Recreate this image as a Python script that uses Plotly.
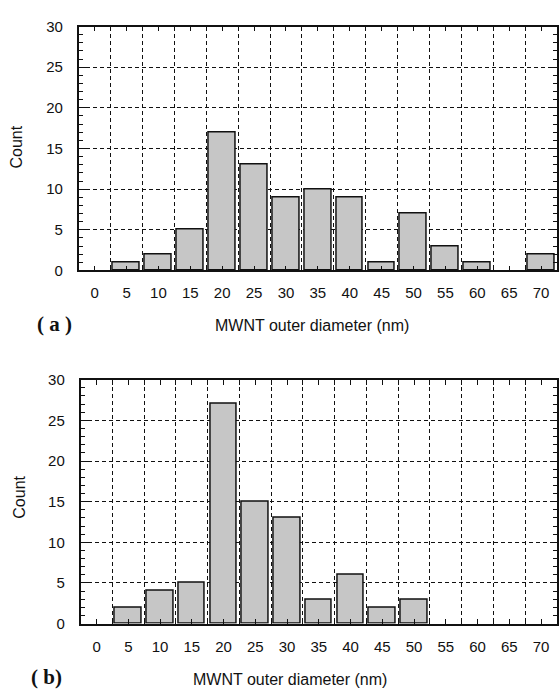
import plotly.graph_objects as go

W, H = 559, 696

diameters = [0, 5, 10, 15, 20, 25, 30, 35, 40, 45, 50, 55, 60, 65, 70]
counts_a = [0, 1, 2, 5, 17, 13, 9, 10, 9, 1, 7, 3, 1, 0, 2]
counts_b = [0, 2, 4, 5, 27, 15, 13, 3, 6, 2, 3, 0, 0, 0, 0]
y_ticks = [0, 5, 10, 15, 20, 25, 30]
x_title = "MWNT outer diameter (nm)"
y_title = "Count"
panel_labels = ["( a )", "( b)"]

def px(x):
    return x / W

def py(y):
    return 1 - y / H

fig = go.Figure()

def bar(x, y, xa, ya):
    return go.Bar(
        x=x, y=y, xaxis=xa, yaxis=ya, width=4.2,
        marker=dict(color="#c6c6c6",
                    line=dict(color="#111111", width=[0 if v == 0 else 1.5 for v in y])),
        showlegend=False, hoverinfo="skip")

fig.add_trace(bar(diameters, counts_a, "x", "y"))
fig.add_trace(bar(diameters, counts_b, "x2", "y2"))

font_tick = dict(family="Liberation Sans, Arial, sans-serif", size=15, color="#111111")

def xaxis_cfg(anchor, domain):
    return dict(
        domain=domain, anchor=anchor, range=[-2.5, 72.5],
        tickvals=diameters, ticktext=[str(v) for v in diameters],
        ticks="inside", ticklen=5, tickwidth=1.3, tickcolor="#111111",
        showgrid=False, zeroline=False,
        showline=True, linecolor="#111111", linewidth=1.8, mirror="ticks",
        tickfont=font_tick, ticklabelstandoff=8,
        minor=dict(tick0=2.5, dtick=5, ticks="inside", ticklen=5, tickwidth=1.3,
                   tickcolor="#111111", showgrid=True, gridcolor="#111111",
                   gridwidth=1.3, griddash="4px,3px"),
        fixedrange=True,
    )

def yaxis_cfg(anchor, domain):
    return dict(
        domain=domain, anchor=anchor, range=[0, 30],
        tickvals=y_ticks, ticks="inside", ticklen=7, tickwidth=1.3, tickcolor="#111111",
        showgrid=True, gridcolor="#111111", gridwidth=1.3, griddash="4px,3px",
        zeroline=False,
        showline=True, linecolor="#111111", linewidth=1.8, mirror="ticks",
        tickfont=font_tick, ticklabelstandoff=11,
        minor=dict(dtick=1, ticks="inside", ticklen=4, tickwidth=1.1,
                   tickcolor="#111111", showgrid=False),
        fixedrange=True,
    )

x_dom_a = [px(79), 1.0]
x_dom_b = [px(81), 1.0]
y_dom_a = [py(268), py(18)]
y_dom_b = [py(630), py(380)]

annotations = []
title_font = dict(family="Liberation Sans, Arial, sans-serif", size=16, color="#111111")
label_font = dict(family="Liberation Serif, Times New Roman, serif", size=21, color="#111111")
annotations.append(dict(text=x_title, x=px(313), y=py(324), xref="paper", yref="paper",
                        showarrow=False, font=title_font, xanchor="center", yanchor="middle"))
annotations.append(dict(text=x_title, x=px(291), y=py(687), xref="paper", yref="paper",
                        showarrow=False, font=title_font, xanchor="center", yanchor="middle"))
annotations.append(dict(text=y_title, x=px(17), y=py(141), xref="paper", yref="paper",
                        showarrow=False, font=title_font, textangle=-90,
                        xanchor="center", yanchor="middle"))
annotations.append(dict(text=y_title, x=px(20), y=py(500), xref="paper", yref="paper",
                        showarrow=False, font=title_font, textangle=-90,
                        xanchor="center", yanchor="middle"))
annotations.append(dict(text="<b>" + panel_labels[0] + "</b>", x=px(55), y=py(323),
                        xref="paper", yref="paper", showarrow=False, font=label_font,
                        xanchor="center", yanchor="middle"))
annotations.append(dict(text="<b>" + panel_labels[1] + "</b>", x=px(47), y=py(685),
                        xref="paper", yref="paper", showarrow=False, font=label_font,
                        xanchor="center", yanchor="middle"))

fig.update_layout(
    width=W, height=H,
    margin=dict(l=0, r=0, t=0, b=0),
    paper_bgcolor="white", plot_bgcolor="white",
    xaxis=xaxis_cfg("y", x_dom_a),
    yaxis=yaxis_cfg("x", y_dom_a),
    xaxis2=xaxis_cfg("y2", x_dom_b),
    yaxis2=yaxis_cfg("x2", y_dom_b),
    bargap=0,
    annotations=annotations,
    showlegend=False,
)

fig.write_html(
    "out.html",
    config={"displayModeBar": False},
    post_script="document.body.style.margin='0';document.body.style.overflow='hidden';",
)
